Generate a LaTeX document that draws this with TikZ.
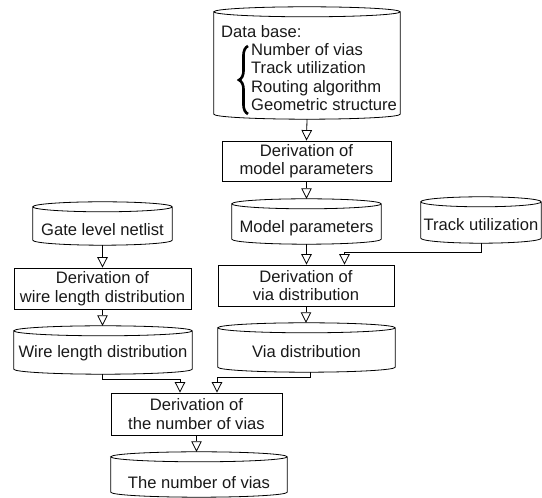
\documentclass[tikz,border=0pt]{standalone}
\usepackage{fontspec}
\setmainfont{Liberation Sans}
\usetikzlibrary{arrows.meta,calc,decorations.pathreplacing}
\newcommand\drawcyl[1]{%
  \draw[line width=0.8pt] let \p1=(#1.north west), \p2=(#1.south east), \n1={(\x2-\x1)/2} in
    (\x1,\y1-5pt) -- (\x1,\y2+5pt) arc[start angle=180,end angle=360,x radius=\n1,y radius=5pt]
    -- (\x2,\y1-5pt) arc[start angle=0,end angle=180,x radius=\n1,y radius=5pt]
    arc[start angle=180,end angle=360,x radius=\n1,y radius=5pt];
}
\begin{document}
\begin{tikzpicture}[x=1pt,y=1pt,
  every node/.style={font=\fontsize{16.6}{18.5}\selectfont, text=black!90},
  procbox/.style={draw, line width=0.8pt, inner sep=0pt, align=center},
  cylarea/.style={inner sep=0pt},
  cyltext/.style={inner sep=0pt, align=center},
  flow/.style={line width=0.8pt, -{Triangle[open,length=10.5pt,width=10.5pt]}},
]
\useasboundingbox (0,0) rectangle (542,498);

% cylinders (stores)
\node[cylarea, minimum width=186pt, minimum height=112pt] (db) at (307,435) {};
\node[cylarea, minimum width=149pt, minimum height=45pt] (mp) at (306.5,276.5) {};
\node[cylarea, minimum width=120pt, minimum height=46pt] (tu) at (481,278) {};
\node[cylarea, minimum width=177pt, minimum height=49pt] (vd) at (306.5,150.5) {};
\node[cylarea, minimum width=139pt, minimum height=43pt] (gl) at (102.5,274.5) {};
\node[cylarea, minimum width=178pt, minimum height=48pt] (wl) at (103,148) {};
\node[cylarea, minimum width=176pt, minimum height=45pt] (nv) at (199,23.5) {};
\foreach \c in {db,mp,tu,vd,gl,wl,nv} {\drawcyl{\c}}

% cylinder texts
\node[anchor=west, inner sep=0pt] (dbt) at (221,466) {Data base:};
\node[anchor=west, inner sep=0pt, align=left] (dbl) at (251,421)
  {Number of vias\\Track utilization\\Routing algorithm\\Geometric structure};
\draw[line width=2.6pt, decorate, decoration={brace, amplitude=9pt}] (248,384) -- (248,452);
\node[cyltext] (mpt) at (306.5,270) {Model parameters};
\node[cyltext] (tut) at (481,273) {Track utilization};
\node[cyltext] (vdt) at (306.5,146) {Via distribution};
\node[cyltext] (glt) at (102.5,268) {Gate level netlist};
\node[cyltext] (wlt) at (103,145) {Wire length distribution};
\node[cyltext] (nvt) at (199,15) {The number of vias};

% process boxes
\node[procbox, minimum width=169pt, minimum height=40pt] (b1) at (306.5,337) {Derivation of\\model parameters};
\node[procbox, minimum width=176pt, minimum height=41pt] (b2) at (306,212.5) {Derivation of\\via distribution};
\node[procbox, minimum width=177pt, minimum height=41pt] (b3) at (102.5,209.5) {Derivation of\\wire length distribution};
\node[procbox, minimum width=171pt, minimum height=42pt] (b4) at (196.5,84) {Derivation of\\the number of vias};

% connectors
\draw[flow] (db.south) -- (b1.north);
\draw[flow] (b1.south) -- (mp.north);
\draw[flow] (mp.south) -- (mp.south |- b2.north);
\draw[flow] (tu.south) -- ++(0,-9) -| ([xshift=38.5pt]b2.north);
\draw[flow] (b2.south) -- (b2.south |- vd.north);
\draw[flow] (gl.south) -- (gl.south |- b3.north);
\draw[flow] (b3.south) -- (b3.south |- wl.north);
\draw[flow] ([xshift=-1pt]wl.south) -- ++(0,-5) -| ([xshift=-16.5pt]b4.north);
\draw[flow] ([xshift=3.5pt]vd.south) -- ++(0,-5) -| ([xshift=20.5pt]b4.north);
\draw[flow] (b4.south) -- (b4.south |- nv.north);
\end{tikzpicture}
\end{document}
